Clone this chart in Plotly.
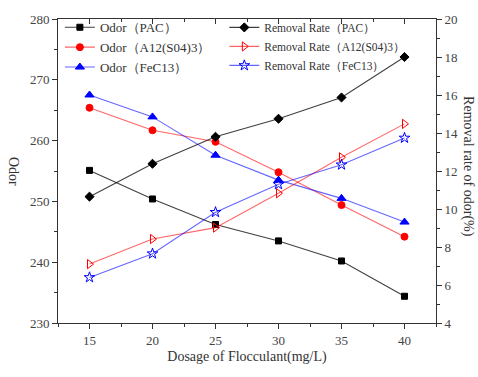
import plotly.graph_objects as go

dosage = [15, 20, 25, 30, 35, 40]
odor_pac = [255.1, 250.4, 246.2, 243.5, 240.2, 234.4]
odor_al = [265.4, 261.7, 259.8, 254.8, 249.4, 244.2]
odor_fe = [267.5, 263.9, 257.6, 253.5, 250.5, 246.6]
rate_pac = [10.65, 12.38, 13.8, 14.75, 15.87, 18.0]
rate_al = [7.1, 8.42, 9.02, 10.83, 12.72, 14.48]
rate_fe = [6.4, 7.65, 9.83, 11.3, 12.33, 13.74]

names_odor = ["Odor（PAC）", "Odor（A12(S04)3）", "Odor（FeC13）"]
names_rate = ["Removal Rate（PAC）", "Removal Rate（A12(S04)3）", "Removal Rate（FeC13）"]

FONT = "Liberation Serif, Times New Roman, serif"

fig = go.Figure()

def add(y, name, lc, mc, sym, size, yaxis, legend):
    fig.add_trace(go.Scatter(
        x=dosage, y=y, name=name, mode="lines+markers",
        line=dict(color=lc, width=1.1),
        marker=dict(color=mc, symbol=sym, size=size, line=dict(color=mc, width=1)),
        yaxis=yaxis, legend=legend))

add(odor_pac, names_odor[0], "rgba(0,0,0,0.75)", "black", "square", 6, "y", "legend")
add(odor_al, names_odor[1], "rgba(255,0,0,0.6)", "red", "circle", 7, "y", "legend")
add(odor_fe, names_odor[2], "rgba(0,0,255,0.6)", "blue", "triangle-up", 8, "y", "legend")
add(rate_pac, names_rate[0], "rgba(0,0,0,0.75)", "black", "diamond", 7, "y2", "legend2")
add(rate_al, names_rate[1], "rgba(255,0,0,0.6)", "red", "triangle-right-open", 8, "y2", "legend2")
add(rate_fe, names_rate[2], "rgba(0,0,255,0.6)", "blue", "star-open", 8, "y2", "legend2")

tickfont = dict(family=FONT, size=13, color="#444")

fig.update_layout(
    width=478, height=377,
    margin=dict(l=58, r=42, t=13, b=54),
    plot_bgcolor="white", paper_bgcolor="white",
    font=dict(family=FONT, color="#333"),
    xaxis=dict(range=[12.5, 42.5], tick0=15, dtick=5, ticks="outside", ticklen=5,
               showline=True, linecolor="#333", linewidth=1, mirror=True, automargin=False,
               showgrid=False, zeroline=False, tickfont=tickfont, tickcolor="#333",
               minor=dict(dtick=2.5, tick0=12.5, ticks="outside", ticklen=3, tickcolor="#333"),
               title=dict(text="Dosage of Flocculant(mg/L)", font=dict(family=FONT, size=14, color="#333"), standoff=4)),
    xaxis2=dict(range=[12.5, 42.5], overlaying="x", side="top", tick0=15, dtick=5,
                ticks="inside", ticklen=5, showticklabels=False, showgrid=False,
                zeroline=False, tickcolor="#333", automargin=False,
                minor=dict(dtick=2.5, tick0=12.5, ticks="inside", ticklen=3, tickcolor="#333")),
    yaxis=dict(range=[230, 280], dtick=10, ticks="outside", ticklen=5, automargin=False,
               showline=True, linecolor="#333", linewidth=1,
               showgrid=False, zeroline=False, tickfont=tickfont, tickcolor="#333",
               minor=dict(dtick=5, ticks="outside", ticklen=3, tickcolor="#333")),
    yaxis2=dict(range=[4, 20], dtick=2, overlaying="y", side="right", anchor="x",
                ticks="outside", ticklen=5, showline=True, linecolor="#333", linewidth=1,
                showgrid=False, zeroline=False, tickfont=tickfont, tickcolor="#333", automargin=False,
                minor=dict(dtick=1, ticks="outside", ticklen=3, tickcolor="#333")),
    legend=dict(x=0.005, y=1.022, xanchor="left", yanchor="top", bgcolor="rgba(0,0,0,0)",
                font=dict(family=FONT, size=13, color="#333"), tracegroupgap=0,
                itemwidth=30),
    legend2=dict(x=0.44, y=1.02, xanchor="left", yanchor="top", bgcolor="rgba(0,0,0,0)",
                 font=dict(family=FONT, size=11.5, color="#333"), tracegroupgap=0,
                 itemwidth=30),
    annotations=[
        dict(text="Odor", textangle=90, xref="paper", yref="paper",
             showarrow=False, font=dict(family=FONT, size=14, color="#333")),
        dict(text="Removal rate of odor(%)", textangle=90, xref="paper", yref="paper",
             showarrow=False, font=dict(family=FONT, size=14, color="#333")),
    ],
    showlegend=True,
)

# position axis titles in pixel-based paper coordinates
pw = 478 - 58 - 42
ph = 377 - 13 - 54
fig.layout.annotations[0].update(x=(14 - 58) / pw, y=(377 - 168 - 54) / ph, xanchor="center", yanchor="middle")
fig.layout.annotations[1].update(x=(468 - 58) / pw, y=(377 - 163 - 54) / ph, xanchor="center", yanchor="middle")

# dummy trace for top axis
fig.add_trace(go.Scatter(x=[None], y=[None], xaxis="x2", showlegend=False, hoverinfo="skip"))

fig.write_html("out.html", config={"displayModeBar": False},
               post_script="document.body.style.margin='0';document.body.style.overflow='hidden';")
